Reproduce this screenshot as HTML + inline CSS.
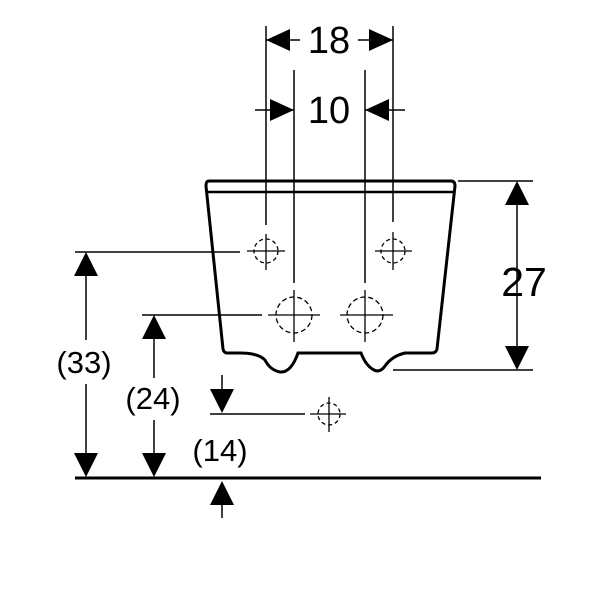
<!DOCTYPE html>
<html><head><style>body{margin:0;background:#fff}svg{display:block}</style></head><body>
<svg width="600" height="600" viewBox="0 0 600 600" xmlns="http://www.w3.org/2000/svg" font-family="Liberation Sans, sans-serif">
<g stroke="#000" stroke-width="1.5" fill="none">
<line x1="266" y1="26" x2="266" y2="225"/>
<line x1="393" y1="26" x2="393" y2="222"/>
<line x1="294" y1="70" x2="294" y2="283"/>
<line x1="365" y1="70" x2="365" y2="283"/>
<line x1="266" y1="40" x2="300" y2="40"/>
<line x1="358" y1="40" x2="393" y2="40"/>
<line x1="255" y1="110" x2="294" y2="110"/>
<line x1="365" y1="110" x2="405" y2="110"/>
<line x1="75" y1="252" x2="240" y2="252"/>
<line x1="142" y1="315" x2="262" y2="315"/>
<line x1="210" y1="414" x2="305" y2="414"/>
<line x1="458" y1="181" x2="533" y2="181"/>
<line x1="393" y1="370" x2="533" y2="370"/>
<line x1="86" y1="260" x2="86" y2="470"/>
<line x1="154" y1="322" x2="154" y2="470"/>
<line x1="222" y1="375" x2="222" y2="405"/>
<line x1="222" y1="490" x2="222" y2="518"/>
<line x1="517" y1="190" x2="517" y2="362"/>
</g>
<path d="M209,181 L451,181 Q455,181 455,186 L437,349 Q436,353 432,353 L405,353 Q392,356 385,366 Q380,373 374,370 Q366,366 361,353 L298,353 Q291,373 280,372 Q270,370 265,360 Q258,353 240,353 L227,353 Q224,353 223,349 L206,186 Q206,181 209,181 Z" fill="none" stroke="#000" stroke-width="3"/>
<line x1="207" y1="192" x2="454" y2="192" stroke="#000" stroke-width="2.5"/>
<line x1="75" y1="478" x2="541" y2="478" stroke="#000" stroke-width="3"/>
<g stroke="#000" stroke-width="1.3" fill="none">
<circle cx="266" cy="251" r="12" stroke-dasharray="4,3"/>
<line x1="247" y1="251" x2="285" y2="251"/><line x1="266" y1="234" x2="266" y2="270"/>
<circle cx="393" cy="251" r="12" stroke-dasharray="4,3"/>
<line x1="375" y1="251" x2="412" y2="251"/><line x1="393" y1="232" x2="393" y2="270"/>
<circle cx="294" cy="315" r="18" stroke-dasharray="5,3"/>
<line x1="268" y1="315" x2="320" y2="315"/><line x1="294" y1="290" x2="294" y2="342"/>
<circle cx="365" cy="315" r="18" stroke-dasharray="5,3"/>
<line x1="340" y1="315" x2="393" y2="315"/><line x1="365" y1="290" x2="365" y2="342"/>
<circle cx="329" cy="414" r="11" stroke-dasharray="4,3"/>
<line x1="310" y1="414" x2="346" y2="414"/><line x1="329" y1="397" x2="329" y2="432"/>
</g>
<g fill="#000">
<polygon points="266,40 290,29 290,51"/>
<polygon points="393,40 369,29 369,51"/>
<polygon points="294,110 270,99 270,121"/>
<polygon points="365,110 389,99 389,121"/>
<polygon points="86,252 74,276 98,276"/>
<polygon points="86,477 74,453 98,453"/>
<polygon points="154,315 142,339 166,339"/>
<polygon points="154,477 142,453 166,453"/>
<polygon points="222,413 210,389 234,389"/>
<polygon points="222,481 210,505 234,505"/>
<polygon points="517,181 505,205 529,205"/>
<polygon points="517,370 505,346 529,346"/>
</g>
<g fill="#000" text-anchor="middle">
<text x="329" y="53" font-size="38">18</text>
<text x="329" y="123" font-size="38">10</text>
<text x="524" y="296" font-size="41">27</text>
<rect x="48" y="340" width="74" height="44" fill="#fff"/>
<text x="84" y="373" font-size="31">(33)</text>
<rect x="116" y="378" width="76" height="42" fill="#fff"/>
<text x="153" y="409" font-size="31">(24)</text>
<text x="220" y="461" font-size="31">(14)</text>
</g>
</svg>
</body></html>
